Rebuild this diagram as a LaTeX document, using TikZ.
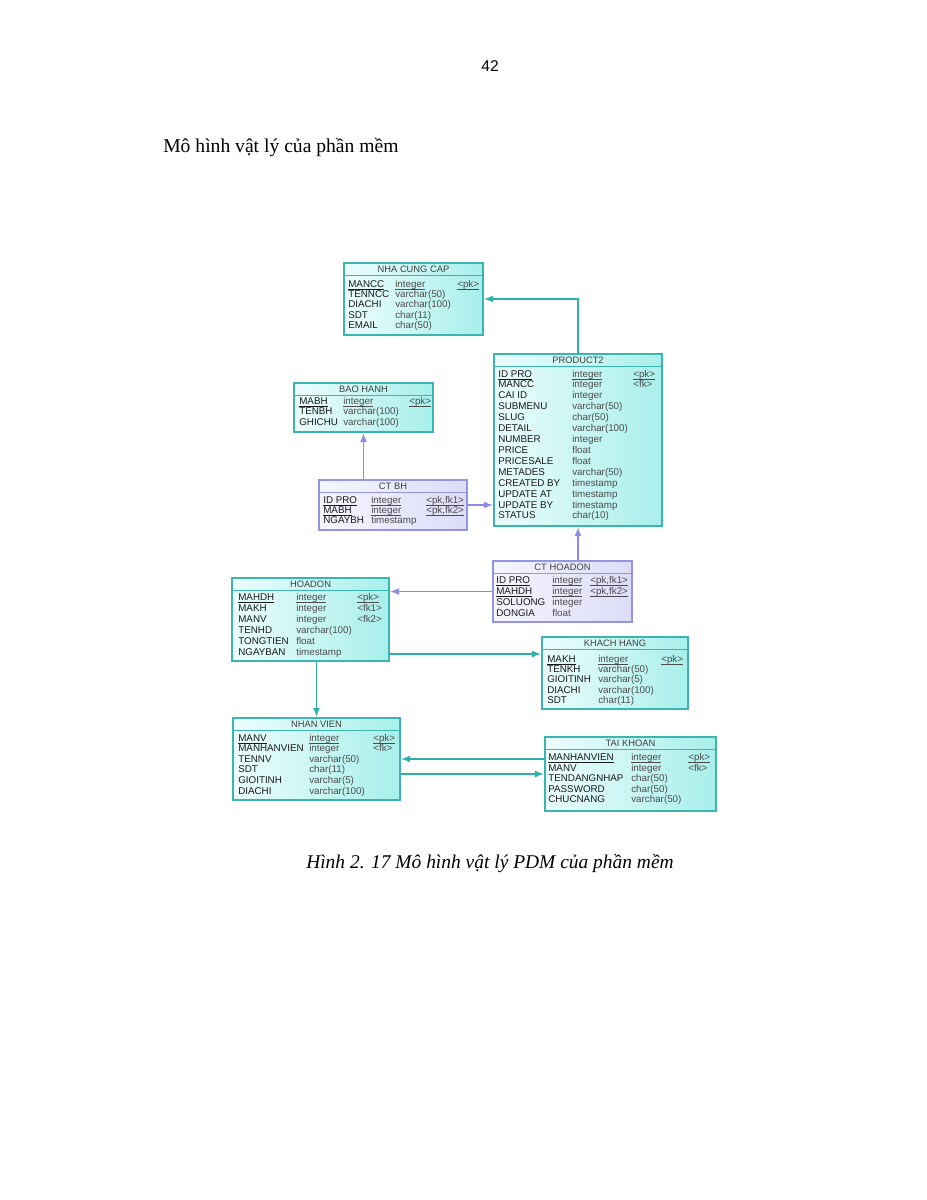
\documentclass[tikz,border=0pt]{standalone}
\usepackage{fontspec}
\setmainfont{Liberation Serif}
\setsansfont{Liberation Sans}
\usetikzlibrary{fit,arrows.meta}

\definecolor{entline}{HTML}{3AB5B0}
\definecolor{entA}{HTML}{ECFDFD}
\definecolor{entB}{HTML}{A8EFEB}
\definecolor{relline}{HTML}{9494E2}
\definecolor{relA}{HTML}{F6F6FF}
\definecolor{relB}{HTML}{DCDCF8}
\definecolor{linkteal}{HTML}{2EB0AA}
\definecolor{linkblue}{HTML}{8C8CE8}

\newcommand\pk[1]{\underline{\smash{#1}}}

\tikzset{
  ent/.style={draw=entline, line width=0.9pt, left color=entA, right color=entB, inner sep=0pt},
  rel/.style={draw=relline, line width=0.9pt, left color=relA, right color=relB, inner sep=0pt},
  sepent/.style={draw=entline, line width=0.6pt},
  seprel/.style={draw=relline, line width=0.6pt},
  ttl/.style={anchor=base, inner sep=0pt, text=black!75, font=\sffamily\fontsize{6}{6.5}\selectfont},
  fld/.style={anchor=base west, inner sep=0pt, text=black!90, font=\sffamily\fontsize{6.3}{6.5}\selectfont},
  typ/.style={fld, text=black!70},
  link/.style={draw=linkteal, line width=1.2pt, -{Latex[length=6pt,width=4.5pt]}},
  linkb/.style={draw=linkblue, line width=1.2pt, -{Latex[length=6pt,width=4.5pt]}}
}

\begin{document}
\begin{tikzpicture}[x=0.6425pt,y=-0.6425pt]
\fill[white] (0,0) rectangle (927,1200);
\useasboundingbox (0,0) rectangle (927,1200);

% page text
\node[anchor=base, inner sep=0pt, font=\sffamily\fontsize{10}{12}\selectfont] (pageno) at (490,72) {42};
\node[anchor=base west, inner sep=0pt, font=\fontsize{12.6}{15}\selectfont] (heading) at (163,153) {Mô hình vật lý của phần mềm};
\node[anchor=base, inner sep=0pt, font=\itshape\fontsize{12.5}{15}\selectfont] (caption) at (490,868) {Hình 2. 17 Mô hình vật lý PDM của phần mềm};

% NHA CUNG CAP
\node[ent, fit={(344,263) (483,335)}] (ncc) {};
\node[ttl] (ncc-t) at (413.5,272) {NHA CUNG CAP};
\draw[sepent] (344,275) -- (483,275);
\foreach \a/\b/\c [count=\i] in {\pk{MANCC}/\pk{integer}/\pk{<pk>},
    TENNCC/varchar(50)/{}, DIACHI/varchar(100)/{}, SDT/char(11)/{}, EMAIL/char(50)/{}}{
  \node[fld] (ncc-a\i) at (348,{287+(\i-1)*10.4}) {\a};
  \node[typ] (ncc-b\i) at (395,{287+(\i-1)*10.4}) {\b};
  \node[typ] (ncc-c\i) at (457,{287+(\i-1)*10.4}) {\c};
}

% PRODUCT2
\node[ent, fit={(494,354) (662,526)}] (prod) {};
\node[ttl] (prod-t) at (578,363) {PRODUCT2};
\draw[sepent] (494,366) -- (662,366);
\foreach \a/\b/\c [count=\i] in {\pk{ID PRO}/\pk{integer}/\pk{<pk>},
    MANCC/integer/<fk>, CAI ID/integer/{}, SUBMENU/varchar(50)/{}, SLUG/char(50)/{},
    DETAIL/varchar(100)/{}, NUMBER/integer/{}, PRICE/float/{}, PRICESALE/float/{},
    METADES/varchar(50)/{}, CREATED BY/timestamp/{}, UPDATE AT/timestamp/{},
    UPDATE BY/timestamp/{}, STATUS/char(10)/{}}{
  \node[fld] (prod-a\i) at (498,{377+(\i-1)*10.92}) {\a};
  \node[typ] (prod-b\i) at (572,{377+(\i-1)*10.92}) {\b};
  \node[typ] (prod-c\i) at (633,{377+(\i-1)*10.92}) {\c};
}

% BAO HANH
\node[ent, fit={(294,383) (433,432)}] (bh) {};
\node[ttl] (bh-t) at (363.5,392) {BAO HANH};
\draw[sepent] (294,395) -- (433,395);
\foreach \a/\b/\c [count=\i] in {\pk{MABH}/\pk{integer}/\pk{<pk>},
    TENBH/varchar(100)/{}, GHICHU/varchar(100)/{}}{
  \node[fld] (bh-a\i) at (299,{404+(\i-1)*10.8}) {\a};
  \node[typ] (bh-b\i) at (343,{404+(\i-1)*10.8}) {\b};
  \node[typ] (bh-c\i) at (409,{404+(\i-1)*10.8}) {\c};
}

% CT BH
\node[rel, fit={(319,480) (467,530)}] (ctbh) {};
\node[ttl] (ctbh-t) at (393,489) {CT BH};
\draw[seprel] (319,492) -- (467,492);
\foreach \a/\b/\c [count=\i] in {\pk{ID PRO}/\pk{integer}/\pk{<pk,fk1>},
    \pk{MABH}/\pk{integer}/\pk{<pk,fk2>}, NGAYBH/timestamp/{}}{
  \node[fld] (ctbh-a\i) at (323,{503+(\i-1)*10}) {\a};
  \node[typ] (ctbh-b\i) at (371,{503+(\i-1)*10}) {\b};
  \node[typ] (ctbh-c\i) at (426,{503+(\i-1)*10}) {\c};
}

% CT HOADON
\node[rel, fit={(493,561) (632,622)}] (cthd) {};
\node[ttl] (cthd-t) at (562.5,570) {CT HOADON};
\draw[seprel] (493,573) -- (632,573);
\foreach \a/\b/\c [count=\i] in {\pk{ID PRO}/\pk{integer}/\pk{<pk,fk1>},
    \pk{MAHDH}/\pk{integer}/\pk{<pk,fk2>}, SOLUONG/integer/{}, DONGIA/float/{}}{
  \node[fld] (cthd-a\i) at (496,{583+(\i-1)*11}) {\a};
  \node[typ] (cthd-b\i) at (552,{583+(\i-1)*11}) {\b};
  \node[typ] (cthd-c\i) at (590,{583+(\i-1)*11}) {\c};
}

% HOADON
\node[ent, fit={(232,578) (389,661)}] (hd) {};
\node[ttl] (hd-t) at (310.5,587) {HOADON};
\draw[sepent] (232,590) -- (389,590);
\foreach \a/\b/\c [count=\i] in {\pk{MAHDH}/\pk{integer}/\pk{<pk>},
    MAKH/integer/<fk1>, MANV/integer/<fk2>, TENHD/varchar(100)/{},
    TONGTIEN/float/{}, NGAYBAN/timestamp/{}}{
  \node[fld] (hd-a\i) at (238,{600+(\i-1)*11}) {\a};
  \node[typ] (hd-b\i) at (296,{600+(\i-1)*11}) {\b};
  \node[typ] (hd-c\i) at (357,{600+(\i-1)*11}) {\c};
}

% KHACH HANG
\node[ent, fit={(542,637) (688,709)}] (kh) {};
\node[ttl] (kh-t) at (615,646) {KHACH HANG};
\draw[sepent] (542,649) -- (688,649);
\foreach \a/\b/\c [count=\i] in {\pk{MAKH}/\pk{integer}/\pk{<pk>},
    TENKH/varchar(50)/{}, GIOITINH/varchar(5)/{}, DIACHI/varchar(100)/{}, SDT/char(11)/{}}{
  \node[fld] (kh-a\i) at (547,{662+(\i-1)*10.4}) {\a};
  \node[typ] (kh-b\i) at (598,{662+(\i-1)*10.4}) {\b};
  \node[typ] (kh-c\i) at (661,{662+(\i-1)*10.4}) {\c};
}

% NHAN VIEN
\node[ent, fit={(233,718) (400,800)}] (nv) {};
\node[ttl] (nv-t) at (316.5,727) {NHAN VIEN};
\draw[sepent] (233,730) -- (400,730);
\foreach \a/\b/\c [count=\i] in {\pk{MANV}/\pk{integer}/\pk{<pk>},
    MANHANVIEN/integer/<fk>, TENNV/varchar(50)/{}, SDT/char(11)/{},
    GIOITINH/varchar(5)/{}, DIACHI/varchar(100)/{}}{
  \node[fld] (nv-a\i) at (238,{741+(\i-1)*10.6}) {\a};
  \node[typ] (nv-b\i) at (309,{741+(\i-1)*10.6}) {\b};
  \node[typ] (nv-c\i) at (373,{741+(\i-1)*10.6}) {\c};
}

% TAI KHOAN
\node[ent, fit={(545,737) (716,811)}] (tk) {};
\node[ttl] (tk-t) at (630.5,746) {TAI KHOAN};
\draw[sepent] (545,749) -- (716,749);
\foreach \a/\b/\c [count=\i] in {\pk{MANHANVIEN}/\pk{integer}/\pk{<pk>},
    MANV/integer/<fk>, TENDANGNHAP/char(50)/{}, PASSWORD/char(50)/{}, CHUCNANG/varchar(50)/{}}{
  \node[fld] (tk-a\i) at (548,{760.5+(\i-1)*10.6}) {\a};
  \node[typ] (tk-b\i) at (631,{760.5+(\i-1)*10.6}) {\b};
  \node[typ] (tk-c\i) at (688,{760.5+(\i-1)*10.6}) {\c};
}

% references
\coordinate (hdkh) at (0,654);
\draw[link] (prod.north) |- (ncc.east);
\draw[linkb] (ctbh.north -| bh.south) -- (bh.south);
\draw[linkb] (ctbh.east) -- (ctbh.east -| prod.west);
\draw[linkb] (cthd.north -| prod.south) -- (prod.south);
\draw[linkb] (cthd.west) -- (cthd.west -| hd.east);
\draw[link] (hd.east |- hdkh) -- (kh.west |- hdkh);
\draw[link] (hd.south -| nv.north) -- (nv.north);
\draw[link] (nv.east -| tk.west) -- (nv.east);
\draw[link] (tk.west -| nv.east) -- (tk.west);

\end{tikzpicture}
\end{document}
